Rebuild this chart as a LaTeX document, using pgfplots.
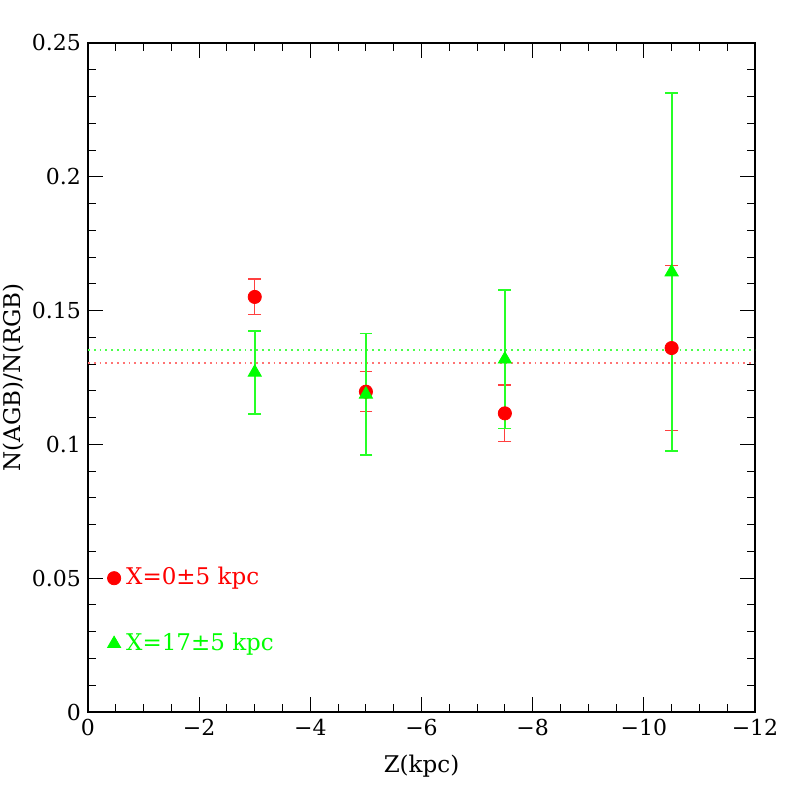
\documentclass[border=0pt]{standalone}
\usepackage{pgfplots}
\pgfplotsset{compat=1.18}
\usepackage{fontspec}
\setmainfont{DejaVu Serif}
\begin{document}
\begin{tikzpicture}
\begin{axis}[
  scale only axis,
  width=333.5pt, height=334.5pt,
  xmin=-12, xmax=0, x dir=reverse,
  ymin=0, ymax=0.25,
  xtick={0,-2,-4,-6,-8,-10,-12},
  xticklabels={0,−2,−4,−6,−8,−10,−12},
  minor x tick num=3,
  ytick={0,0.05,0.1,0.15,0.2,0.25},
  yticklabels={0,0.05,0.1,0.15,0.2,0.25},
  minor y tick num=4,
  tick align=inside,
  tick pos=both,
  major tick length=7.5pt,
  minor tick length=3.8pt,
  every tick/.style={black, line width=0.5pt},
  axis line style={line width=0.6pt},
  scaled y ticks=false,
  /pgf/number format/assume math mode=true,
  tick label style={font=\fontsize{11}{13}\selectfont},
  label style={font=\fontsize{11.5}{13}\selectfont},
  xlabel={Z(kpc)},
  ylabel={N(AGB)/N(RGB)},
  xlabel style={yshift=-3pt},
  ylabel style={yshift=-3pt},
  clip=false,
]
% mean levels
\addplot[red!55, dotted, line width=0.9pt] coordinates {(0,0.1305) (-12,0.1305)};
\addplot[green!70, dotted, line width=0.9pt] coordinates {(0,0.1353) (-12,0.1353)};
% X=0 kpc
\addplot[only marks, mark=*, mark size=3.3pt, red,
  error bars/.cd, y dir=both, y explicit,
  error bar style={red!75, line width=0.6pt},
  error mark options={rotate=90, mark size=3.2pt, red!75, line width=0.6pt}]
  coordinates {
  (-3,0.1551) +- (0,0.0067)
  (-5,0.1197) +- (0,0.0074)
  (-7.5,0.1116) +- (0,0.0106)
  (-10.5,0.1360) +- (0,0.0309)
};
% X=17 kpc
\addplot[only marks, mark=triangle*, mark size=3.8pt, green,
  error bars/.cd, y dir=both, y explicit,
  error bar style={green!85, line width=0.9pt},
  error mark options={rotate=90, mark size=3.2pt, green!85, line width=0.8pt}]
  coordinates {
  (-3,0.1269) +- (0,0.0155)
  (-5,0.1187) +- (0,0.0227)
  (-7.5,0.1318) +- (0,0.0259)
  (-10.5,0.1644) +- (0,0.0669)
};
% key
\addplot[only marks, mark=*, mark size=3.3pt, red] coordinates {(-0.47,0.05)};
\addplot[only marks, mark=triangle*, mark size=3.8pt, green] coordinates {(-0.47,0.0255)};
\node[anchor=west, red, font=\fontsize{11.5}{13}\selectfont, inner sep=0pt] at (axis cs:-0.68,0.05) {X=0±5 kpc};
\node[anchor=west, green, font=\fontsize{11.5}{13}\selectfont, inner sep=0pt] at (axis cs:-0.68,0.0255) {X=17±5 kpc};
\end{axis}
\pgfresetboundingbox
\useasboundingbox ([shift={(-44pt,-42.5pt)}]current axis.south west) rectangle ([shift={(21pt,21.5pt)}]current axis.north east);
\end{tikzpicture}
\end{document}
